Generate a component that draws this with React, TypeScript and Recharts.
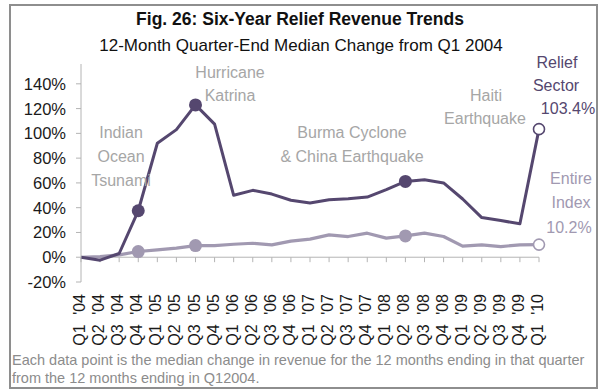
import React from "react";
import { LineChart, Line, XAxis, YAxis, ReferenceLine } from "recharts";

const categories = [
  "Q1 '04", "Q2 '04", "Q3 '04", "Q4 '04",
  "Q1 '05", "Q2 '05", "Q3 '05", "Q4 '05",
  "Q1 '06", "Q2 '06", "Q3 '06", "Q4 '06",
  "Q1 '07", "Q2 '07", "Q3 '07", "Q4 '07",
  "Q1 '08", "Q2 '08", "Q3 '08", "Q4 '08",
  "Q1 '09", "Q2 '09", "Q3 '09", "Q4 '09",
  "Q1 '10",
];
const reliefSector = [
  0, -2.4, 3, 37.5, 92, 103, 123, 107.5, 50, 54, 51, 46, 43.7, 46.4, 47.2,
  48.6, 54.5, 61.2, 62.6, 60, 47, 32, 29.6, 27, 103.4,
];
const entireIndex = [
  0, 0.5, 1.9, 4.6, 5.9, 7.3, 9.4, 9.4, 10.5, 11.3, 10, 13, 14.6, 18, 16.7,
  19.4, 15.4, 17.2, 19.4, 16.7, 9, 10, 8.6, 10, 10.2,
];
const yTicks = [-20, 0, 20, 40, 60, 80, 100, 120, 140];
const markerIndices = [3, 6, 17];

const data = categories.map((q, i) => ({
  q,
  relief: reliefSector[i],
  index: entireIndex[i],
}));

const FONT = '"Liberation Sans", Arial, sans-serif';
const DARK = "#55476f";
const LIGHT = "#a199b1";
const NOTE = "#a6a6a6";

const makeDot = (color: string) => (props: any) => {
  const { cx, cy, index } = props;
  if (index === categories.length - 1) {
    return <circle key={`d${index}`} cx={cx} cy={cy} r={5.5} fill="#fff" stroke={color} strokeWidth={1.6} />;
  }
  if (markerIndices.includes(index)) {
    return <circle key={`d${index}`} cx={cx} cy={cy} r={6.5} fill={color} stroke="none" />;
  }
  return <g key={`d${index}`} />;
};

const XTick = (props: any) => {
  const { x, y, payload } = props;
  const tx = x + 4;
  const ty = y + 12;
  return (
    <text
      x={tx}
      y={ty}
      transform={`rotate(-90, ${tx}, ${ty})`}
      textAnchor="end"
      fill="#1a1a1a"
      fontSize={16}
      fontFamily={FONT}
      wordSpacing={5}
    >
      {payload.value}
    </text>
  );
};

const YTick = (props: any) => {
  const { x, y, payload } = props;
  return (
    <text
      x={x}
      y={y}
      dy="0.36em"
      textAnchor="end"
      fill="#1a1a1a"
      fontSize={16.5}
      fontFamily={FONT}
    >
      {`${payload.value}%`}
    </text>
  );
};

const Note = ({ x, y, color, children, size = 16, weight = "normal" }: any) => (
  <div
    style={{
      position: "absolute",
      left: x,
      top: y,
      transform: "translate(-50%, -50%)",
      whiteSpace: "nowrap",
      color,
      fontSize: size,
      fontWeight: weight,
      fontFamily: FONT,
      lineHeight: 1,
    }}
  >
    {children}
  </div>
);

export default function App() {
  return (
    <div style={{ position: "absolute", left: 0, top: 0, width: 602, height: 390, fontFamily: FONT, background: "#fff" }}>
      <div
        style={{
          position: "absolute",
          left: 9,
          top: 4,
          width: 589,
          height: 385,
          boxSizing: "border-box",
          border: "2px solid #8e8e8e",
        }}
      />
      <div style={{ position: "absolute", left: 0, top: 0 }}>
        <LineChart
          width={602}
          height={390}
          data={data}
          margin={{ top: 64, right: 63, bottom: 48, left: 0 }}
        >
          <XAxis
            dataKey="q"
            interval={0}
            axisLine={false}
            tickLine={false}
            tickSize={0}
            tickMargin={0}
            height={60}
            tick={<XTick />}
          />
          <YAxis
            width={81}
            domain={[-20, 156]}
            ticks={yTicks}
            axisLine={{ stroke: "#b4b4b4", strokeWidth: 1 }}
            tickLine={{ stroke: "#b4b4b4" }}
            tickSize={5}
            tickMargin={10}
            tick={<YTick />}
            allowDataOverflow
          />
          <ReferenceLine y={0} stroke="#b4b4b4" strokeWidth={1} />
          {categories.map((c) => (
            <ReferenceLine
              key={`t-${c}`}
              segment={[{ x: c, y: 0 }, { x: c, y: -4 }]}
              stroke="#b4b4b4"
              strokeWidth={1}
            />
          ))}
          <Line
            type="linear"
            dataKey="index"
            stroke={LIGHT}
            strokeWidth={3.2}
            dot={makeDot(LIGHT)}
            activeDot={false}
            isAnimationActive={false}
            strokeLinejoin="round"
          />
          <Line
            type="linear"
            dataKey="relief"
            stroke={DARK}
            strokeWidth={3}
            dot={makeDot(DARK)}
            activeDot={false}
            isAnimationActive={false}
            strokeLinejoin="round"
          />
        </LineChart>
      </div>

      <Note x={300} y={20} color="#111" size={17.5} weight="bold">Fig. 26: Six-Year Relief Revenue Trends</Note>
      <Note x={301} y={45} color="#111" size={17}>12-Month Quarter-End Median Change from Q1 2004</Note>

      <Note x={121} y={133} color={NOTE}>Indian</Note>
      <Note x={121} y={157} color={NOTE}>Ocean</Note>
      <Note x={121} y={181} color={NOTE}>Tsunami</Note>

      <Note x={230} y={73} color={NOTE}>Hurricane</Note>
      <Note x={230} y={96} color={NOTE}>Katrina</Note>

      <Note x={352} y={133} color={NOTE}>Burma Cyclone</Note>
      <Note x={352} y={157} color={NOTE}>&amp; China Earthquake</Note>

      <Note x={486} y={96} color={NOTE}>Haiti</Note>
      <Note x={485} y={119} color={NOTE}>Earthquake</Note>

      <Note x={557} y={63} color={DARK}>Relief</Note>
      <Note x={556} y={86} color={DARK}>Sector</Note>
      <Note x={568} y={109} color={DARK}>103.4%</Note>

      <Note x={571} y={179} color={LIGHT}>Entire</Note>
      <Note x={571} y={203} color={LIGHT}>Index</Note>
      <Note x={569} y={228} color={LIGHT}>10.2%</Note>

      <div
        style={{
          position: "absolute",
          left: 12,
          top: 351,
          fontSize: 14.5,
          lineHeight: "18px",
          color: "#8c8c8c",
          fontFamily: FONT,
          whiteSpace: "nowrap",
        }}
      >
        Each data point is the median change in revenue for the 12 months ending in that quarter
        <br />
        from the 12 months ending in Q12004.
      </div>
    </div>
  );
}
